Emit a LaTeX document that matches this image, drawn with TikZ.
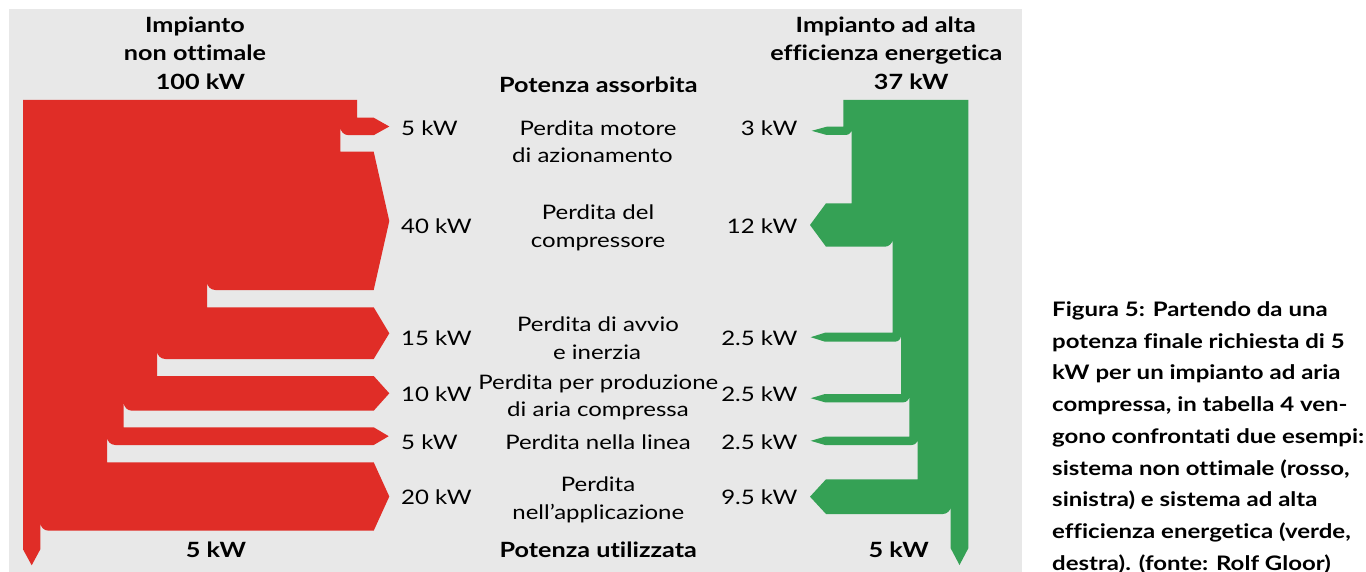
\documentclass[tikz,border=0pt]{standalone}
\usepackage{fontspec}
\setmainfont[FakeStretch=1.2, Ligatures=NoCommon]{Lato}
\definecolor{bggray}{HTML}{E8E8E8}
\definecolor{redflow}{HTML}{E02D27}
\definecolor{greenflow}{HTML}{35A155}
\tikzset{
  lbl/.style={font=\fontsize{20}{27}\selectfont, inner sep=0pt, text=black},
  hdr/.style={font=\fontsize{21}{28}\selectfont\bfseries, inner sep=0pt, text=black},
  captext/.style={font=\fontsize{20}{31.7}\selectfont\bfseries, inner sep=0pt, text=black, align=left},
  redband/.style={fill=redflow, draw=none},
  greenband/.style={fill=greenflow, draw=none}
}
\begin{document}
\begin{tikzpicture}[x=1pt,y=-1pt]
\useasboundingbox (0,0) rectangle (1366,572);
\fill[white] (0,0) rectangle (1366,572);
\fill[bggray] (9,9) rectangle (1022,572);

% red Sankey (non optimal plant)
\path[redband] (23,100) -- (357,100) -- (357,117.7) -- (373.7,117.7) -- (389.3,126.5) -- (373.7,135.2)
  -- (348.6,135.2) .. controls (344,135.2) and (340.3,131.5) .. (340.3,126.9)
  -- (340.3,151.7) -- (373.7,151.7) -- (389.3,221) -- (373.7,290)
  -- (215.3,290) .. controls (210.7,290) and (207,286.3) .. (207,281.7)
  -- (207,307.3) -- (373.7,307.3) -- (389.3,333.3) -- (373.7,359)
  -- (165.3,359) .. controls (160.7,359) and (157,355.3) .. (157,350.7)
  -- (157,376) -- (373.7,376) -- (389.3,393.3) -- (373.7,410.7)
  -- (132,410.7) .. controls (127.4,410.7) and (123.7,407) .. (123.7,402.4)
  -- (123.7,427.3) -- (373.7,427.3) -- (388.7,436.2) -- (373.7,445)
  -- (115.3,445) .. controls (110.7,445) and (107,441.3) .. (107,436.7)
  -- (107,462.3) -- (373.7,462.3) -- (389.3,496.5) -- (373.7,530.7)
  -- (48.6,530.7) .. controls (44,530.7) and (40.3,527) .. (40.3,522.4)
  -- (40.3,549.3) -- (31.7,565.3) -- (23,549.3) -- cycle;

% green Sankey (efficient plant)
\path[greenband] (843.3,100) -- (968.3,100) -- (968.3,548.3) -- (959.5,565) -- (950.7,548.3)
  -- (950.7,506.4) .. controls (950.7,510.6) and (947,514) .. (942.8,514)
  -- (826,514) -- (810,496.7) -- (826,479.3) -- (917.7,479.3)
  -- (917.7,439) .. controls (917.7,442.3) and (915,445) .. (911.7,445)
  -- (825,445) -- (810.7,440.8) -- (825,436.7) -- (909.3,436.7)
  -- (909.3,396.3) .. controls (909.3,399.6) and (906.6,402.3) .. (903.3,402.3)
  -- (825,402.3) -- (810.7,398.2) -- (825,394) -- (901,394)
  -- (901,335.7) .. controls (901,339) and (898.3,341.7) .. (895,341.7)
  -- (825,341.7) -- (810.7,337.2) -- (825,332.7) -- (892.7,332.7)
  -- (892.7,239) .. controls (892.7,243.2) and (889,246.7) .. (884.8,246.7)
  -- (826,246.7) -- (810,225) -- (826,203.3) -- (851.7,203.3)
  -- (851.7,129) .. controls (851.7,132.3) and (849,135) .. (845.7,135)
  -- (826.7,135) -- (811.7,130.8) -- (826.7,126.7) -- (843.3,126.7) -- cycle;

% headers
\node[hdr, anchor=base] (hl1) at (195,33) {Impianto};
\node[hdr, anchor=base] (hl2) at (195,61) {non ottimale};
\node[hdr, anchor=base] (hl3) at (200.5,89.3) {100 kW};
\node[hdr, anchor=base] (hr1) at (885.8,33) {Impianto ad alta};
\node[hdr, anchor=base] (hr2) at (886.3,61) {efficienza energetica};
\node[hdr, anchor=base] (hr3) at (911.3,89.3) {37 kW};
\node[hdr, anchor=base] (pin) at (598.3,92.7) {Potenza assorbita};
\node[hdr, anchor=base] (pout) at (598.3,557.7) {Potenza utilizzata};
\node[hdr, anchor=base] (lout) at (216,557.7) {5 kW};
\node[hdr, anchor=base] (rout) at (898.7,557.7) {5 kW};

% left values
\node[lbl, anchor=base west] (l1) at (401,135.5) {5 kW};
\node[lbl, anchor=base west] (l2) at (401,233.3) {40 kW};
\node[lbl, anchor=base west] (l3) at (401,345) {15 kW};
\node[lbl, anchor=base west] (l4) at (401,401.7) {10 kW};
\node[lbl, anchor=base west] (l5) at (401,449) {5 kW};
\node[lbl, anchor=base west] (l6) at (401,504.3) {20 kW};

% right values
\node[lbl, anchor=base east] (r1) at (797.7,135.5) {3 kW};
\node[lbl, anchor=base east] (r2) at (797.7,233.3) {12 kW};
\node[lbl, anchor=base east] (r3) at (797.7,345) {2.5 kW};
\node[lbl, anchor=base east] (r4) at (797.7,401.7) {2.5 kW};
\node[lbl, anchor=base east] (r5) at (797.7,449) {2.5 kW};
\node[lbl, anchor=base east] (r6) at (797.7,504.3) {9.5 kW};

% middle descriptions
\node[lbl, anchor=base] (m1a) at (598,135.7) {Perdita motore};
\node[lbl, anchor=base] (m1b) at (592.5,162.3) {di azionamento};
\node[lbl, anchor=base] (m2a) at (598,220) {Perdita del};
\node[lbl, anchor=base] (m2b) at (598,247.7) {compressore};
\node[lbl, anchor=base] (m3a) at (598,331.7) {Perdita di avvio};
\node[lbl, anchor=base] (m3b) at (597,359) {e inerzia};
\node[lbl, anchor=base] (m4a) at (598.3,389.3) {Perdita per produzione};
\node[lbl, anchor=base] (m4b) at (598,416.7) {di aria compressa};
\node[lbl, anchor=base] (m5) at (598,449) {Perdita nella linea};
\node[lbl, anchor=base] (m6a) at (598,491.7) {Perdita};
\node[lbl, anchor=base] (m6b) at (598.3,519) {nell’applicazione};

% caption
\node[captext, anchor=north west] (caption) at (1052,301.5) {Figura 5: Partendo da una\\
potenza finale richiesta di 5\\
kW per un impianto ad aria\\
compressa, in tabella 4 ven-\\
gono confrontati due esempi:\\
sistema non ottimale (rosso,\\
sinistra) e sistema ad alta\\
efficienza energetica (verde,\\
destra). (fonte: Rolf Gloor)};
\end{tikzpicture}
\end{document}
